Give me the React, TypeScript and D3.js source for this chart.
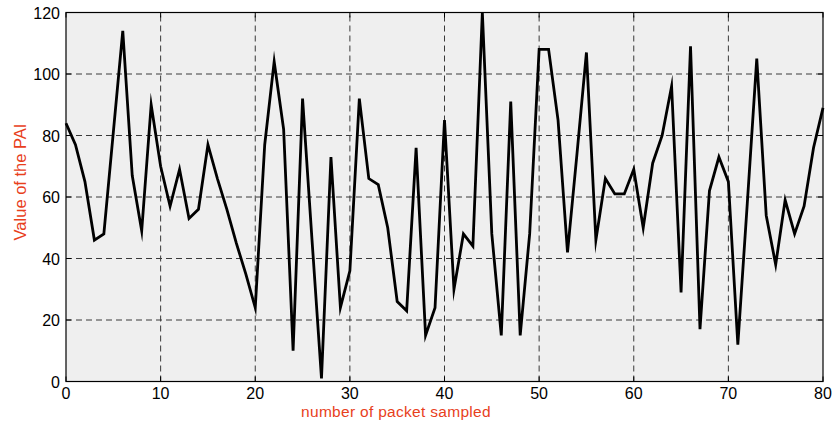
import React, { useEffect, useRef } from "react";
import * as d3 from "d3";

// PAI value for each sampled packet (index 0..80)
const paiValues: number[] = [
  84, 77, 65, 46, 48, 81, 114, 67, 49, 90,
  70, 57, 69, 53, 56, 77, 66, 56, 45, 35,
  24, 77, 104, 82, 10, 92, 46, 1, 73, 24,
  36, 92, 66, 64, 50, 26, 23, 76, 15, 24,
  85, 30, 48, 44, 120, 48, 15, 91, 15, 48,
  108, 108, 85, 42, 74, 107, 46, 66, 61, 61,
  69, 50, 71, 80, 96, 29, 109, 17, 62, 73,
  65, 12, 58, 105, 54, 38, 59, 48, 57, 76,
  89,
];

const xTicks: number[] = [0, 10, 20, 30, 40, 50, 60, 70, 80];
const yTicks: number[] = [0, 20, 40, 60, 80, 100, 120];
const xLabel = "number of packet sampled";
const yLabel = "Value of the PAI";

const W = 832;
const H = 423;
const M = { left: 66, right: 9, top: 12.5, bottom: 41.5 };

export default function App() {
  const ref = useRef<SVGSVGElement>(null);

  useEffect(() => {
    const svg = d3.select(ref.current!);
    svg.selectAll("*").remove();

    const x = d3.scaleLinear().domain([0, 80]).range([M.left, W - M.right]);
    const y = d3.scaleLinear().domain([0, 120]).range([H - M.bottom, M.top]);
    const font = "'Liberation Sans', Arial, Helvetica, sans-serif";

    svg.append("rect").attr("width", W).attr("height", H).attr("fill", "#ffffff");

    // plot background
    svg
      .append("rect")
      .attr("x", x(0))
      .attr("y", y(120))
      .attr("width", x(80) - x(0))
      .attr("height", y(0) - y(120))
      .attr("fill", "#efefef");

    // dashed grid
    const grid = svg.append("g").attr("stroke", "#3a3a3a").attr("stroke-width", 1).attr("stroke-dasharray", "6,4");
    xTicks.slice(1, -1).forEach((t) => {
      grid.append("line").attr("x1", x(t)).attr("x2", x(t)).attr("y1", y(0)).attr("y2", y(120));
    });
    yTicks.slice(1, -1).forEach((t) => {
      grid.append("line").attr("x1", x(0)).attr("x2", x(80)).attr("y1", y(t)).attr("y2", y(t));
    });

    // data line
    const line = d3
      .line<number>()
      .x((_, i) => x(i))
      .y((d) => y(d));
    svg
      .append("path")
      .datum(paiValues)
      .attr("d", line)
      .attr("fill", "none")
      .attr("stroke", "#000")
      .attr("stroke-width", 2.8)
      .attr("stroke-linejoin", "miter")
      .attr("stroke-miterlimit", 10);

    // frame
    svg
      .append("rect")
      .attr("x", x(0))
      .attr("y", y(120))
      .attr("width", x(80) - x(0))
      .attr("height", y(0) - y(120))
      .attr("fill", "none")
      .attr("stroke", "#000")
      .attr("stroke-width", 1.2);

    // inward tick marks
    const ticks = svg.append("g").attr("stroke", "#000").attr("stroke-width", 1);
    const tl = 5;
    xTicks.forEach((t) => {
      ticks.append("line").attr("x1", x(t)).attr("x2", x(t)).attr("y1", y(0)).attr("y2", y(0) - tl);
      ticks.append("line").attr("x1", x(t)).attr("x2", x(t)).attr("y1", y(120)).attr("y2", y(120) + tl);
    });
    yTicks.forEach((t) => {
      ticks.append("line").attr("x1", x(0)).attr("x2", x(0) + tl).attr("y1", y(t)).attr("y2", y(t));
      ticks.append("line").attr("x1", x(80)).attr("x2", x(80) - tl).attr("y1", y(t)).attr("y2", y(t));
    });

    // tick labels
    xTicks.forEach((t) => {
      svg
        .append("text")
        .attr("x", x(t))
        .attr("y", y(0) + 17)
        .attr("text-anchor", "middle")
        .attr("font-family", font)
        .attr("font-size", 16)
        .attr("fill", "#000")
        .text(String(t));
    });
    yTicks.forEach((t) => {
      svg
        .append("text")
        .attr("x", x(0) - 6)
        .attr("y", y(t) + 6)
        .attr("text-anchor", "end")
        .attr("font-family", font)
        .attr("font-size", 16)
        .attr("fill", "#000")
        .text(String(t));
    });

    // axis titles
    svg
      .append("text")
      .attr("x", 396)
      .attr("y", 417)
      .attr("text-anchor", "middle")
      .attr("font-family", font)
      .attr("font-size", 15.5)
      .attr("letter-spacing", 0.3)
      .attr("fill", "#e8401c")
      .text(xLabel);
    svg
      .append("text")
      .attr("transform", `translate(25.5, 182) rotate(-90)`)
      .attr("text-anchor", "middle")
      .attr("font-family", font)
      .attr("font-size", 16.5)
      .attr("fill", "#e8401c")
      .text(yLabel);
  }, []);

  return (
    <svg
      ref={ref}
      width={W}
      height={H}
      style={{ position: "absolute", left: 0, top: 0, display: "block" }}
    />
  );
}
